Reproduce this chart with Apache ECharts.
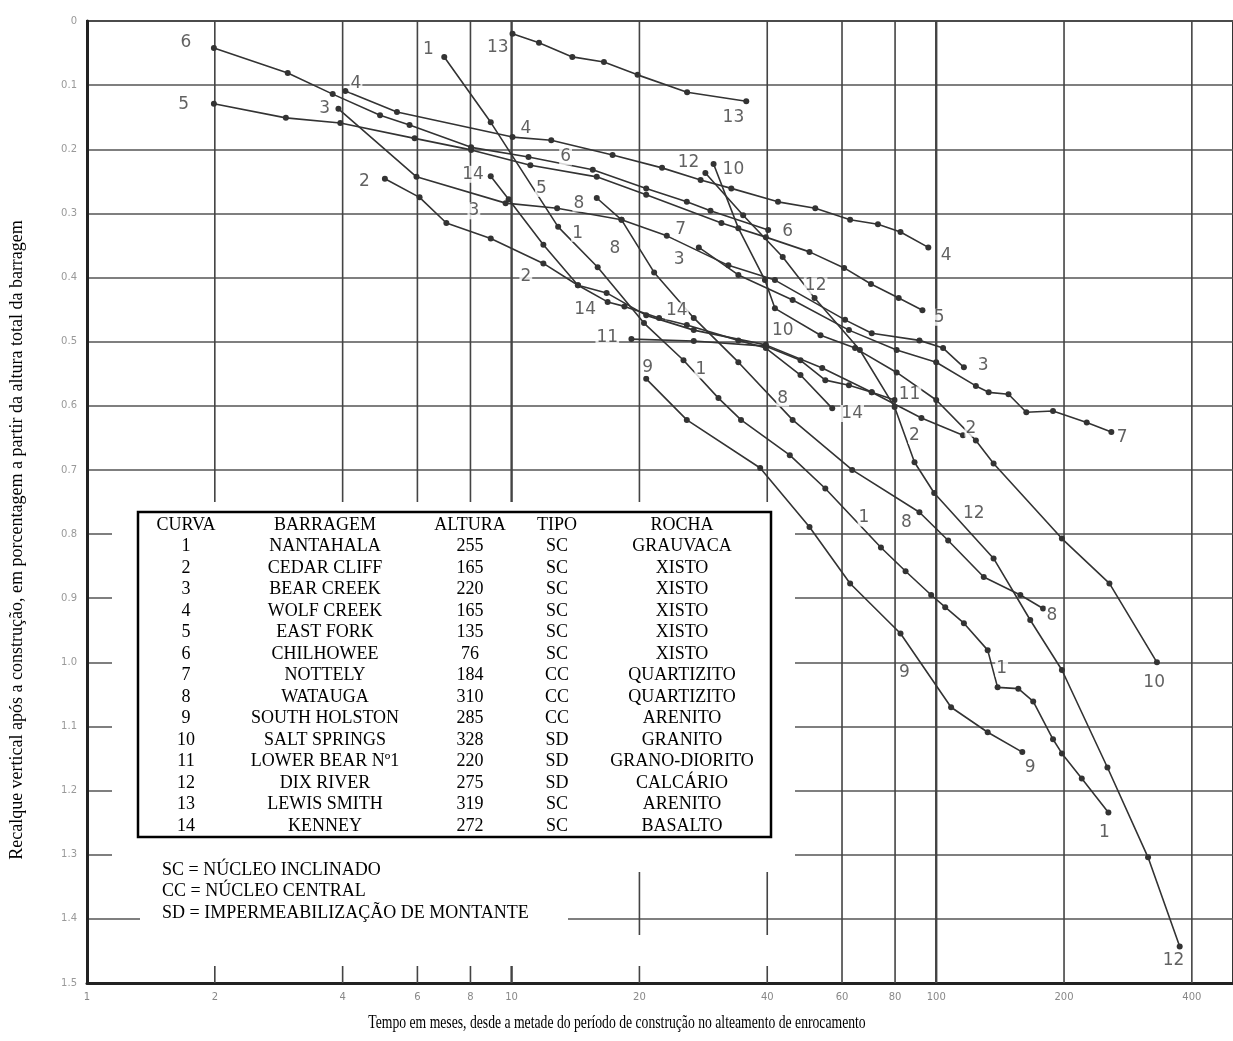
<!DOCTYPE html>
<html>
<head>
<meta charset="utf-8">
<script src="https://cdn.jsdelivr.net/npm/echarts@6/dist/echarts.min.js"></script>
<style>
html,body{margin:0;padding:0;background:#fff;}
#chart{width:1233px;height:1041px;}
</style>
</head>
<body>
<div id="chart"></div>
<script>
// Recalque vertical pós-construção (fração da altura) x tempo em meses — 14 barragens de enrocamento
// Cada curva: pares [meses, recalque]
const curva1 = [[6.94,0.056],[8.93,0.158],[12.87,0.321],[15.95,0.384],[20.5,0.471],[25.4,0.529],[30.7,0.588],[34.7,0.622],[45.2,0.677],[54.8,0.729],[74.1,0.821],[84.7,0.858],[97.3,0.895],[105,0.914],[116.2,0.939],[132.2,0.981],[139.5,1.039],[156.1,1.041],[169.2,1.061],[188.4,1.12],[197.7,1.142],[220.2,1.181],[254.4,1.234]];
const curva2 = [[5.03,0.246],[6.07,0.275],[7.02,0.315],[8.93,0.339],[11.88,0.378],[14.33,0.412],[16.74,0.424],[20.75,0.459],[26.85,0.482],[39.7,0.505],[53.9,0.541],[70.5,0.579],[92.3,0.619],[115.6,0.646]];
const curva3 = [[3.91,0.137],[5.97,0.243],[9.68,0.284],[12.8,0.292],[18.15,0.31],[23.2,0.335],[32.4,0.381],[41.7,0.404],[61.0,0.466],[70.5,0.487],[91.3,0.498],[103.8,0.51],[116.2,0.54]];
const curva4 = [[4.06,0.109],[5.37,0.142],[10.05,0.181],[12.4,0.186],[17.29,0.209],[22.61,0.229],[27.87,0.248],[32.92,0.261],[42.4,0.282],[51.9,0.292],[62.7,0.31],[72.9,0.317],[82.4,0.329],[95.8,0.353]];
const curva5 = [[1.99,0.129],[2.94,0.151],[3.95,0.159],[5.91,0.183],[8.03,0.201],[11.07,0.225],[15.87,0.243],[20.75,0.271],[31.2,0.315],[39.7,0.337],[50.3,0.36],[60.7,0.385],[70.2,0.41],[81.6,0.432],[92.8,0.451]];
const curva6 = [[1.99,0.042],[2.97,0.081],[3.79,0.114],[4.9,0.147],[5.75,0.162],[8.03,0.197],[10.96,0.212],[15.53,0.232],[20.75,0.261],[25.86,0.282],[29.4,0.296],[40.2,0.326]];
const curva7 = [[27.6,0.353],[34.2,0.396],[45.9,0.435],[62.3,0.482],[80.7,0.513],[100,0.532],[124,0.569],[132.9,0.579],[148,0.582],[163,0.61],[188.4,0.608],[226.2,0.626],[258.5,0.641]];
const curva8 = [[15.87,0.276],[18.15,0.31],[21.66,0.392],[26.85,0.463],[34.2,0.532],[45.9,0.622],[63.4,0.7],[91.3,0.766],[106.7,0.81],[129.4,0.867],[157.8,0.895],[178.5,0.916]];
const curva9 = [[20.75,0.558],[25.86,0.622],[38.5,0.697],[50.3,0.789],[62.7,0.877],[82.4,0.955],[108.4,1.07],[132.2,1.109],[159.5,1.14]];
const curva10 = [[29.9,0.223],[34.2,0.323],[39.5,0.404],[41.7,0.448],[53.4,0.49],[64.4,0.51],[80.7,0.548],[100,0.591],[124,0.654],[136.5,0.69],[197.7,0.807],[255.8,0.877],[331,1.0]];
const curva11 = [[19.15,0.496],[26.85,0.499],[39.7,0.507],[47.9,0.529],[54.8,0.56],[62.3,0.568],[70.5,0.579],[79.8,0.591]];
const curva12 = [[28.6,0.237],[35.1,0.303],[43.5,0.368],[51.7,0.432],[66.1,0.513],[79.8,0.602],[88.9,0.688],[98.9,0.736],[136.5,0.838],[166.5,0.934],[197.7,1.012],[253.1,1.164],[315.4,1.304],[374.5,1.443]];
const curva13 = [[10.05,0.02],[11.6,0.034],[13.9,0.056],[16.5,0.064],[19.8,0.084],[25.9,0.111],[35.7,0.125]];
const curva14 = [[8.93,0.242],[9.84,0.278],[11.88,0.349],[14.33,0.412],[16.83,0.438],[18.44,0.445],[22.25,0.463],[25.86,0.474],[34.2,0.498],[39.7,0.51],[47.9,0.552],[56.9,0.604]];

// Números das curvas escritos junto aos traçados: [meses, recalque, texto]
const rotulos = [
  [6.37,0.044,'1'],[9.28,0.041,'13'],[33.3,0.151,'13'],[1.71,0.033,'6'],[1.69,0.131,'5'],
  [4.3,0.098,'4'],[3.63,0.136,'3'],[4.5,0.251,'2'],[10.8,0.167,'4'],[13.4,0.212,'6'],
  [11.75,0.261,'5'],[8.11,0.239,'14'],[8.15,0.296,'3'],[14.4,0.284,'8'],[14.3,0.331,'1'],
  [17.5,0.355,'8'],[10.8,0.398,'2'],[24.8,0.372,'3'],[25,0.326,'7'],[26.1,0.22,'12'],
  [33.3,0.232,'10'],[44.7,0.329,'6'],[105.5,0.365,'4'],[101.6,0.462,'5'],[52,0.413,'12'],
  [43.5,0.482,'10'],[129,0.537,'3'],[14.9,0.45,'14'],[24.5,0.452,'14'],[16.8,0.493,'11'],
  [20.9,0.54,'9'],[27.9,0.544,'1'],[43.5,0.588,'8'],[63.4,0.612,'14'],[86.5,0.583,'11'],
  [88.9,0.646,'2'],[120.7,0.635,'2'],[274,0.649,'7'],[67.6,0.775,'1'],[85.1,0.782,'8'],
  [122.6,0.768,'12'],[187.4,0.927,'8'],[84.2,1.016,'9'],[142.6,1.009,'1'],[326,1.031,'10'],
  [166.5,1.164,'9'],[249,1.265,'1'],[362,1.465,'12']
];

// Escalas
const ticksTempo = [1,2,4,6,8,10,20,40,60,80,100,200,400];
const linhasTempo = [2,4,6,8,10,20,40,60,80,100,200,400];

// Quadro das barragens
const cabecalho = ['CURVA','BARRAGEM','ALTURA','TIPO','ROCHA'];
const barragens = ['NANTAHALA','CEDAR CLIFF','BEAR CREEK','WOLF CREEK','EAST FORK','CHILHOWEE','NOTTELY','WATAUGA','SOUTH HOLSTON','SALT SPRINGS','LOWER BEAR Nº1','DIX RIVER','LEWIS SMITH','KENNEY'];
const alturas = [255,165,220,165,135,76,184,310,285,328,220,275,319,272];
const tipos = ['SC','SC','SC','SC','SC','SC','CC','CC','CC','SD','SD','SD','SC','SC'];
const rochas = ['GRAUVACA','XISTO','XISTO','XISTO','XISTO','XISTO','QUARTIZITO','QUARTIZITO','ARENITO','GRANITO','GRANO-DIORITO','CALCÁRIO','ARENITO','BASALTO'];
const legendaTipos = ['SC = NÚCLEO INCLINADO','CC = NÚCLEO CENTRAL','SD = IMPERMEABILIZAÇÃO DE MONTANTE'];

const tituloX = 'Tempo em meses, desde a metade do período de construção no alteamento de enrocamento';
const tituloY = 'Recalque vertical após a construção, em porcentagem a partir da altura total da barragem';

const curvas = [curva1,curva2,curva3,curva4,curva5,curva6,curva7,curva8,curva9,curva10,curva11,curva12,curva13,curva14];

const chart = echarts.init(document.getElementById('chart'), null, {renderer:'canvas'});

const SERIF = '"Liberation Serif","Times New Roman",serif';
const INK = '#333';

const series = [];
// linhas verticais da grade logarítmica
linhasTempo.forEach(v => {
  series.push({
    type:'line', data:[[v,0],[v,1.5]], symbol:'none', silent:true, z:0,
    lineStyle:{color:'#444', width:(v===10||v===100)?2.4:1.6}
  });
});
// curvas de recalque
curvas.forEach((d,i) => {
  series.push({
    type:'line', name:'Curva '+(i+1), data:d, symbol:'circle', symbolSize:6,
    silent:true, z:3,
    lineStyle:{color:INK, width:1.6}, itemStyle:{color:INK}
  });
});
// números das curvas
series.push({
  type:'scatter', data:rotulos, symbolSize:0, silent:true, z:4,
  label:{show:true, position:'inside', formatter:p=>p.data[2],
    fontFamily:'"DejaVu Sans",sans-serif', fontSize:17, color:'#3a3a3a',
    backgroundColor:'#fff', padding:[0,1]}
});

// quadro e notas
const gfx = [];
// áreas brancas sob o quadro e as notas
gfx.push({type:'rect', z:1, shape:{x:112,y:502,width:683,height:370}, style:{fill:'#fff'}});
gfx.push({type:'rect', z:1, shape:{x:140,y:872,width:428,height:63}, style:{fill:'#fff'}});
gfx.push({type:'rect', z:1, shape:{x:104,y:935,width:726,height:31}, style:{fill:'#fff'}});
gfx.push({type:'rect', z:2, shape:{x:138,y:512,width:633,height:325}, style:{fill:'#fff', stroke:'#000', lineWidth:2.5}});
const colX = [186,325,470,557,682];
const linha0 = 525, passo = 21.5;
cabecalho.forEach((t,j) => gfx.push({type:'text', z:3, x:colX[j], y:linha0,
  style:{text:t, font:'18px '+SERIF, fill:'#000', textAlign:'center', textVerticalAlign:'middle'}}));
barragens.forEach((b,i) => {
  const cel = [String(i+1), b, String(alturas[i]), tipos[i], rochas[i]];
  cel.forEach((t,j) => gfx.push({type:'text', z:3, x:colX[j], y:linha0+passo*(i+1),
    style:{text:t, font:'18px '+SERIF, fill:'#000', textAlign:'center', textVerticalAlign:'middle'}}));
});
legendaTipos.forEach((t,i) => gfx.push({type:'text', z:3, x:162, y:870+21.5*i,
  style:{text:t, font:'18px '+SERIF, fill:'#000', textAlign:'left', textVerticalAlign:'middle'}}));
// títulos dos eixos
gfx.push({type:'text', z:3, x:617, y:1023, scaleX:0.76,
  style:{text:tituloX, font:'18px '+SERIF, fill:'#000', textAlign:'center', textVerticalAlign:'middle'}});
gfx.push({type:'text', z:3, x:17, y:540, rotation:Math.PI/2,
  style:{text:tituloY, font:'18px '+SERIF, fill:'#000', textAlign:'center', textVerticalAlign:'middle'}});

chart.setOption({
  animation:false,
  backgroundColor:'#fff',
  grid:{left:87, top:21, right:-12, bottom:58, show:true, borderColor:'#333', borderWidth:2, backgroundColor:'transparent'},
  xAxis:{
    type:'log', logBase:10, min:1, max:500,
    axisLine:{show:true, onZero:false, lineStyle:{color:'#222', width:3}},
    axisTick:{show:false},
    splitLine:{show:false},
    axisLabel:{customValues:ticksTempo, formatter:v=>String(Math.round(v)), margin:9,
      fontFamily:'"DejaVu Sans",sans-serif', fontSize:10, color:'#888'}
  },
  yAxis:{
    type:'value', inverse:true, min:0, max:1.5, interval:0.1,
    axisLine:{show:true, lineStyle:{color:'#222', width:3}},
    axisTick:{show:false},
    splitLine:{show:true, lineStyle:{color:'#555', width:1.6}},
    axisLabel:{formatter:v=>v===0?'0':v.toFixed(1), margin:10,
      fontFamily:'"DejaVu Sans",sans-serif', fontSize:10, color:'#999'}
  },
  series:series,
  graphic:{elements:gfx}
});
</script>
</body>
</html>
